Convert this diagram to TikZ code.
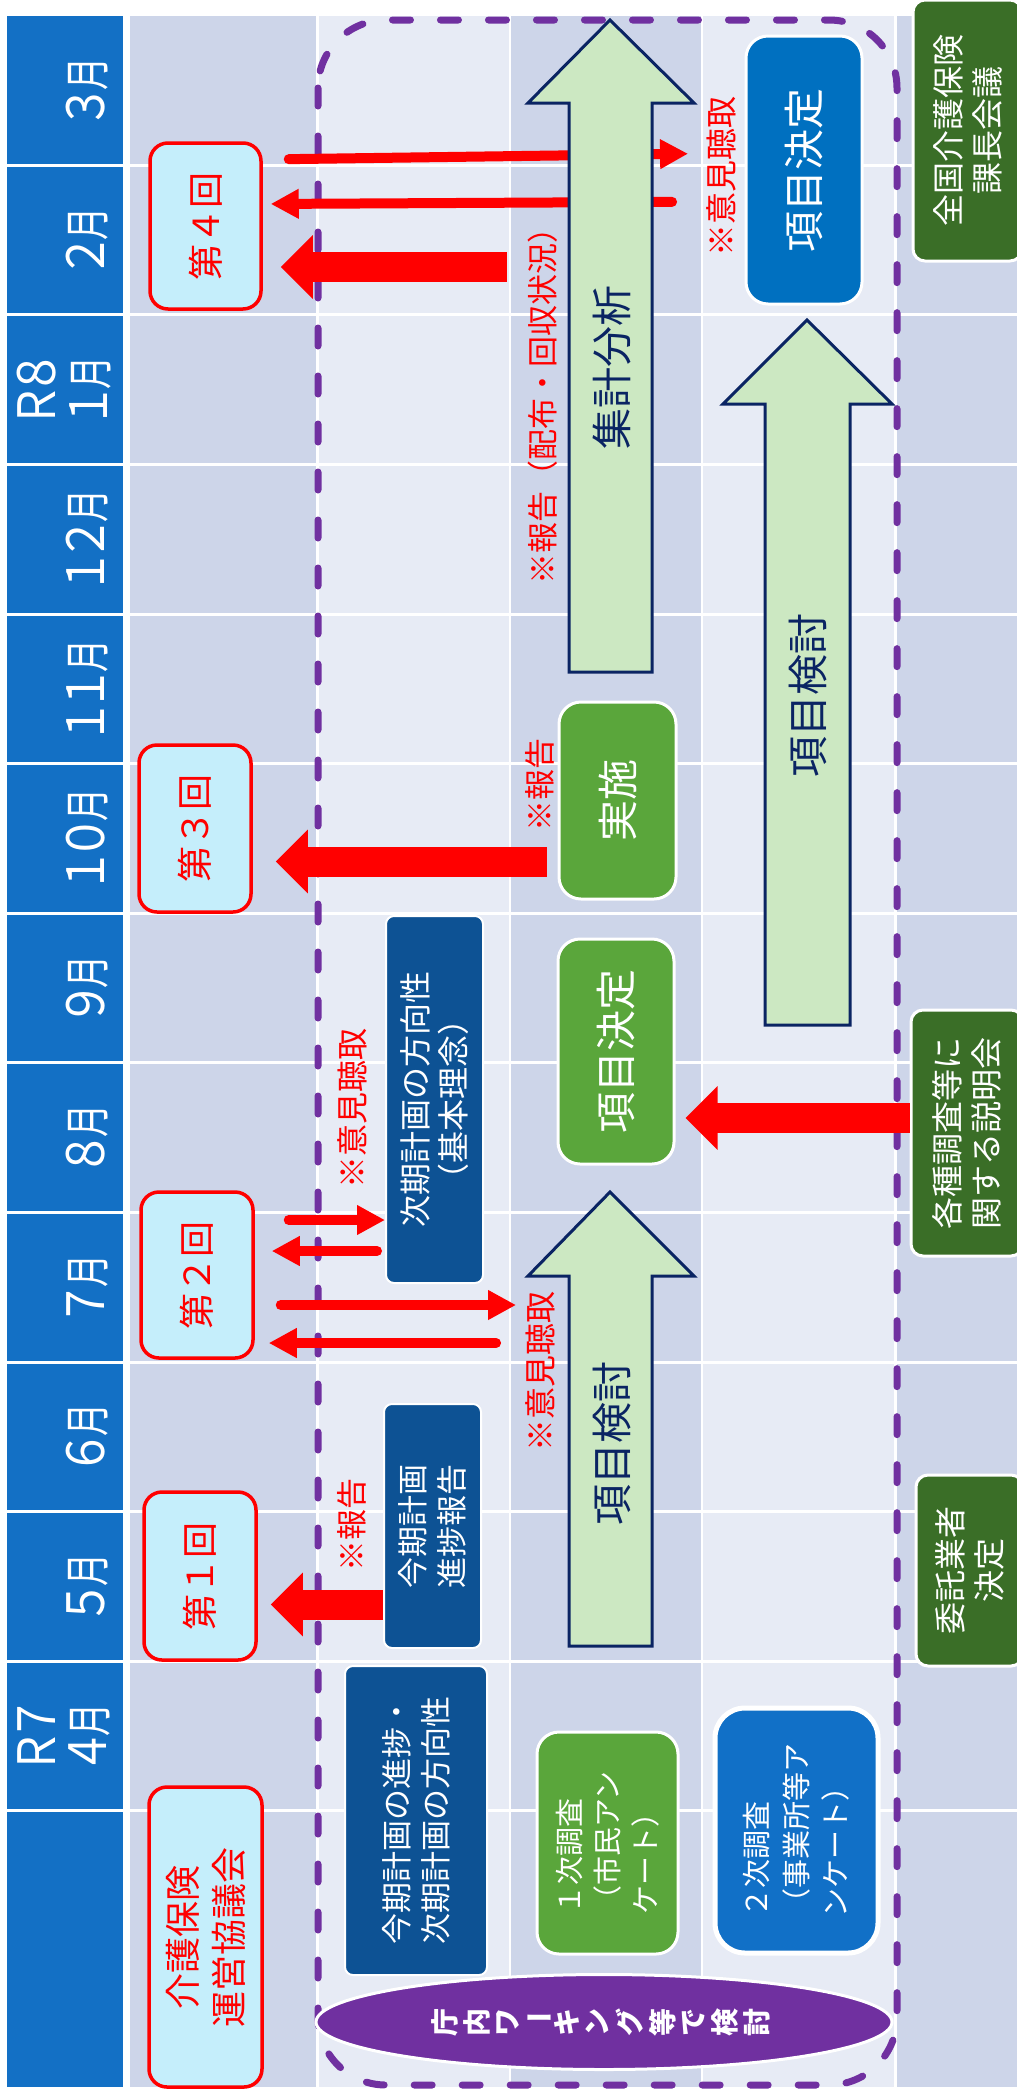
\documentclass[tikz,border=0pt]{standalone}
\usepackage{fontspec}
\setmainfont{Noto Sans CJK JP}
\usepackage{graphicx}
\usetikzlibrary{arrows.meta,shapes.geometric}
\definecolor{hdr}{HTML}{1370C5}
\definecolor{bandA}{HTML}{CDD5E9}
\definecolor{bandB}{HTML}{E7EBF5}
\definecolor{rfill}{HTML}{C5EEFB}
\definecolor{navyb}{HTML}{0D5294}
\definecolor{greenb}{HTML}{5AA63B}
\definecolor{blueb}{HTML}{0070C0}
\definecolor{bluebb}{HTML}{1170C7}
\definecolor{dgreen}{HTML}{3A6E27}
\definecolor{purp}{HTML}{7030A0}
\definecolor{lgreen}{HTML}{CCE8C2}
\definecolor{navyl}{HTML}{0A2463}
\newcommand\fw[1]{\makebox[1em][c]{#1}}
\newcommand\hd[1]{\makebox[1em][c]{\scalebox{1.35}[1.12]{#1}}}
\newcommand\hdrlabel[1]{\scalebox{0.72}[1]{\begin{tabular}{@{}c@{}}#1\end{tabular}}}
\begin{document}
\begin{tikzpicture}[x=1pt,y=-1pt,
  sz/.style 2 args={minimum width=#1pt,minimum height=#2pt},
  hdrtext/.style={rotate=90,text=white,font=\fontsize{46}{46}\selectfont,inner sep=0pt},
  redbox/.style={rotate=90,draw=red,line width=3.5pt,fill=rfill,rounded corners=18pt,text=red,font=\fontsize{36}{46}\selectfont,align=center,inner sep=0pt},
  navybox/.style={rotate=90,draw=white,line width=2pt,fill=navyb,rounded corners=8pt,text=white,font=\fontsize{31}{39}\selectfont,align=center,inner sep=0pt},
  gbox/.style={rotate=90,draw=white,line width=3pt,fill=greenb,rounded corners=22pt,text=white,font=\fontsize{41}{41}\selectfont,align=center,inner sep=0pt},
  bbox/.style={rotate=90,draw=white,line width=3pt,fill=blueb,rounded corners=22pt,text=white,font=\fontsize{41}{41}\selectfont,align=center,inner sep=0pt},
  dgbox/.style={rotate=90,draw=white,line width=3pt,fill=dgreen,rounded corners=12pt,text=white,font=\fontsize{32}{39}\selectfont,align=center,inner sep=0pt},
  redtxt/.style={rotate=90,text=red,font=\fontsize{31}{31}\selectfont,inner sep=0pt},
  biglab/.style={rotate=90,text=navyl,font=\fontsize{41}{41}\selectfont,inner sep=0pt},
  garr/.style={fill=lgreen,draw=navyl,line width=3pt},
  thinarr/.style={draw=red,line width=10pt,line cap=round,-{Triangle[length=28pt,width=28pt]}},
  bigarr/.style={draw=red,line width=30pt,-{Triangle[length=32pt,width=62pt]}}
]
\useasboundingbox (0,0) rectangle (1017,2096);
\clip (0,0) rectangle (1017,2096);
\fill[white] (0,0) rectangle (1017,2096);
% table
\fill[hdr] (7,15.6) rectangle (123,2087);
\fill[bandA] (130,15.6) rectangle (317.5,2087);
\fill[bandB] (317.5,15.6) rectangle (510,2087);
\fill[bandA] (510,15.6) rectangle (702,2087);
\fill[bandB] (702,15.6) rectangle (895.5,2087);
\fill[bandA] (895.5,15.6) rectangle (1017,2087);
\foreach \k in {1,...,12} \draw[white,line width=3pt] (7,{15.6+149.6*\k}) -- (1017,{15.6+149.6*\k});
\foreach \xx in {317.5,510,702,895.5} \draw[white,line width=2.5pt] (\xx,15.6) -- (\xx,2087);
% month headers
\node[hdrtext] (m3) at (92,90.4) {\hdrlabel{\hd{３}月}};
\node[hdrtext] (m2) at (92,240) {\hdrlabel{\hd{２}月}};
\node[hdrtext] (m1) at (69,389.6) {\hdrlabel{\hd{Ｒ}\hd{８}\\\hd{１}月}};
\node[hdrtext] (m12) at (92,539.2) {\hdrlabel{\hd{１}\hd{２}月}};
\node[hdrtext] (m11) at (92,688.8) {\hdrlabel{\hd{１}\hd{１}月}};
\node[hdrtext] (m10) at (92,838.4) {\hdrlabel{\hd{１}\hd{０}月}};
\node[hdrtext] (m9) at (92,988) {\hdrlabel{\hd{９}月}};
\node[hdrtext] (m8) at (92,1137.6) {\hdrlabel{\hd{８}月}};
\node[hdrtext] (m7) at (92,1287.2) {\hdrlabel{\hd{７}月}};
\node[hdrtext] (m6) at (92,1436.8) {\hdrlabel{\hd{６}月}};
\node[hdrtext] (m5) at (92,1586.4) {\hdrlabel{\hd{５}月}};
\node[hdrtext] (m4) at (69,1736) {\hdrlabel{\hd{Ｒ}\hd{７}\\\hd{４}月}};
% dashed frame
\draw[purp,line width=7pt,dash pattern=on 18pt off 30pt,line cap=round,rounded corners=68pt] (318,20) rectangle (897,2085);
% column 1
\node[redbox,sz={300}{113}] (kaigo) at (205.5,1937) {介護保険\\運営協議会};
\node[redbox,sz={168}{112}] (d1) at (200,1576) {第\fw{１}回};
\node[redbox,sz={166}{112}] (d2) at (197,1275) {第\fw{２}回};
\node[redbox,sz={167}{112}] (d3) at (195,828.5) {第\fw{３}回};
\node[redbox,sz={166}{111}] (d4) at (205.5,226) {第\fw{４}回};
% column 2
\node[navybox,sz={367}{97},font=\fontsize{32}{38}\selectfont] (jiki) at (434.5,1099.5) {次期計画の方向性\\（基本理念）};
\node[navybox,sz={244}{97}] (kon) at (432.5,1526) {今期計画\\進捗報告};
\node[navybox,sz={309}{142}] (hoko) at (416,1820.5) {今期計画の進捗・\\次期計画の方向性};
\node[draw=white,line width=3pt,fill=purp,ellipse,minimum width=576pt,minimum height=95pt,inner sep=0pt,text=white] (wk) at (604,2022)
  {\rotatebox{90}{\fontsize{28}{28}\selectfont\bfseries\begin{tabular}{@{}c@{}}庁\\内\\ワ\\\rotatebox[origin=c]{-90}{ー}\\キ\\ン\\グ\\等\\で\\検\\討\end{tabular}}};
% column 3
\node[gbox,sz={197}{117}] (jisshi) at (617.5,800.5) {実施};
\node[gbox,sz={225}{116}] (kettei3) at (616,1051.5) {項目決定};
\node[gbox,sz={222}{141},font=\fontsize{29}{38}\selectfont,align=left] (chosa1) at (607.5,1843) {\fw{１}次調査\\（市民アン\\ケート）};
% column 4
\node[bbox,sz={268}{116}] (kettei4) at (804,170) {項目決定};
\node[bbox,fill=bluebb,line width=5pt,rounded corners=30pt,sz={245}{163},font=\fontsize{29}{39.5}\selectfont,align=left] (chosa2) at (796.5,1830.5) {\fw{２}次調査\\（事業所等ア\\ンケート）};
% column 5
\node[dgbox,sz={261}{109}] (zenkoku) at (967.5,130.5) {全国介護保険\\課長会議};
\node[dgbox,sz={246}{112}] (kakushu) at (967,1133) {各種調査等に\\関する説明会};
\node[dgbox,sz={191}{107}] (itaku) at (969.5,1570.5) {委託業者\\決定};
% red notes
\node[redtxt] (rep2) at (543,398) {※報告（配布・回収状況）};
\node[redtxt] (rep3) at (540,785) {※報告};
\node[redtxt,font=\fontsize{32}{32}\selectfont] (iken4) at (721,176) {※意見聴取};
\node[redtxt,font=\fontsize{32}{32}\selectfont] (iken2) at (352,1108) {※意見聴取};
\node[redtxt,font=\fontsize{32}{32}\selectfont] (iken3) at (540,1371) {※意見聴取};
\node[redtxt] (rep1) at (352,1525) {※報告};
% arrows behind the green arrow
\draw[thinarr,shorten <=26pt,shorten >=18pt] ([yshift=66.5pt]d4.south) -- ([yshift=22.5pt]iken4.north);
\draw[thinarr,shorten <=34pt,shorten >=8pt] ([yshift=-25.7pt]iken4.north) -- ([yshift=22pt]d4.south);
% green block arrows
\draw[garr] (569,672) -- (569,103) -- (528,103) -- (610,20) -- (694,103) -- (652,103) -- (652,672) -- cycle;
\node[biglab] (a1t) at (612,367) {集計分析};
\draw[garr] (569,1646) -- (569,1276) -- (528,1276) -- (610,1192) -- (694,1276) -- (652,1276) -- (652,1646) -- cycle;
\node[biglab] (a2t) at (612,1443) {項目検討};
\draw[garr] (765,1025) -- (765,404) -- (723,404) -- (807,320) -- (892,404) -- (850,404) -- (850,1025) -- cycle;
\node[biglab] (a3t) at (808,695) {項目検討};
% thick arrows
\draw[bigarr,shorten >=13pt] ([yshift=-78.5pt]kon.north) -- ([yshift=-28.5pt]d1.south);
\draw[bigarr,shorten <=11pt,shorten >=23pt] ([yshift=-61pt]jisshi.north) -- ([yshift=-33pt]d3.south);
\draw[bigarr,shorten >=10pt] ([yshift=15pt]kakushu.north) -- ([yshift=-66.5pt]kettei3.south);
\draw[bigarr,shorten >=18pt] ([xshift=-21.5pt,yshift=131pt]rep2.north) -- ([yshift=-41pt]d4.south);
% thin arrows around meeting 2
\draw[thinarr,shorten <=34pt] ([yshift=55pt]d2.south) -- ([yshift=-120.5pt]jiki.north);
\draw[thinarr,shorten <=8pt,shorten >=17pt] ([yshift=-151.5pt]jiki.north) -- ([yshift=24pt]d2.south);
\draw[thinarr,shorten <=26pt,shorten >=9pt] ([yshift=-30pt]d2.south) -- ([yshift=66pt]iken3.north);
\draw[thinarr,shorten <=29pt,shorten >=14pt] ([yshift=28pt]iken3.north) -- ([yshift=-68pt]d2.south);
\end{tikzpicture}
\end{document}
